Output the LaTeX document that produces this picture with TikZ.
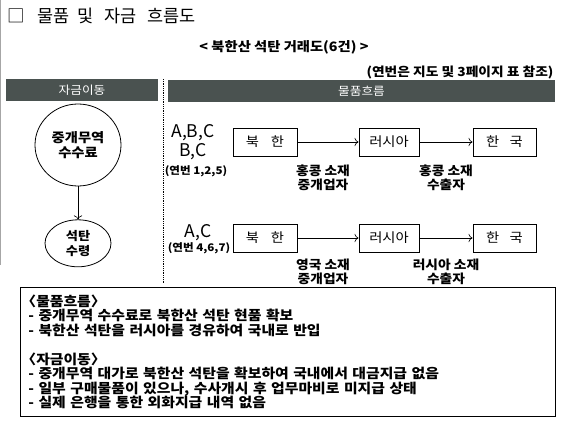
\documentclass[tikz,border=0pt]{standalone}
\usepackage{fontspec}
\setmainfont{Noto Sans CJK KR}
\newfontfamily\widefont[FakeStretch=1.1]{Noto Sans CJK KR}
\usetikzlibrary{positioning,arrows.meta,shapes.geometric}

\definecolor{barfill}{RGB}{74,82,80}

\begin{document}
\begin{tikzpicture}[x=1pt, y=-1pt,
    bar/.style={rectangle, fill=barfill, text=white, minimum height=22pt, inner sep=0pt, font=\widefont\fontsize{11.5}{12}\selectfont},
    country/.style={rectangle, draw=black, line width=1pt, minimum height=28pt, inner sep=0pt, font=\widefont\fontsize{13}{14}\selectfont},
    bubble/.style={ellipse, draw=black, line width=0.8pt, inner sep=0pt, align=center, font=\widefont\bfseries\fontsize{13}{15}\selectfont},
    arrow/.style={-{To[length=4pt]}, line width=0.6pt},
    dealer/.style={font=\widefont\bfseries\fontsize{12.5}{14}\selectfont, align=center},
    caseset/.style={font=\fontsize{17.5}{19}\selectfont},
    caseno/.style={font=\widefont\bfseries\fontsize{10.5}{12}\selectfont}
]
\useasboundingbox (0,0) rectangle (569,436);

% scan edge
\draw[black!35, line width=1.2pt] (0.6,0) -- (0.6,265);

% title and heading
\node[anchor=west, font=\fontsize{17.5}{19}\selectfont] (title) at (4,16)
  {□\hspace{12pt}물품\hspace{8pt}및\hspace{11pt}자금\hspace{11pt}흐름도};
\node[font=\widefont\bfseries\fontsize{13}{14}\selectfont] (heading) at (284,47) {< 북한산 석탄 거래도(6건) >};
\node[anchor=east, font=\widefont\bfseries\fontsize{12.5}{14}\selectfont] (source) at (557,72) {(연번은 지도 및 3페이지 표 참조)};

% column headers
\node[bar, minimum width=152pt] (moneyhead) at (82,90) {자금이동};
\node[bar, minimum width=387pt] (goodshead) at (361.5,91) {물품흐름};
\draw[densely dotted, line width=0.8pt] (163,79) -- (163,283);

% money flow
\node[bubble, minimum width=86pt, minimum height=82pt] (fee) at (78,145) {중개무역\\수수료};
\node[bubble, minimum width=66pt, minimum height=47pt, below=33pt of fee, font=\widefont\bfseries\fontsize{12}{15}\selectfont] (coal) {석탄\\수령};
\draw[arrow] (fee) -- (coal);

% goods flow, cases 1,2,5
\node[caseset] (set1a) at (193,133) {A,B,C};
\node[caseset] (set1b) at (193,152) {B,C};
\node[caseno] (no1) at (196,171) {(연번 1,2,5)};
\node[country, minimum width=64pt] (nk1) at (265,142) {북\hspace{0.9em}한};
\node[country, minimum width=60pt, right=61pt of nk1] (ru1) {러시아};
\node[country, minimum width=63pt, right=53pt of ru1] (kr1) {한\hspace{0.8em}국};
\draw[arrow] (nk1) -- node[dealer, below=19pt, xshift=-5pt] (hk1) {홍콩 소재\\중개업자} (ru1);
\draw[arrow] (ru1) -- node[dealer, below=19pt] (hk2) {홍콩 소재\\수출자} (kr1);

% goods flow, cases 4,6,7
\node[caseset] (set2) at (198,233) {A,C};
\node[caseno] (no2) at (199,248) {(연번 4,6,7)};
\node[country, minimum width=64pt] (nk2) at (265,238) {북\hspace{0.9em}한};
\node[country, minimum width=60pt, right=61pt of nk2] (ru2) {러시아};
\node[country, minimum width=63pt, right=53pt of ru2] (kr2) {한\hspace{0.8em}국};
\draw[arrow] (nk2) -- node[dealer, below=17pt, xshift=-5pt] (uk1) {영국 소재\\중개업자} (ru2);
\draw[arrow] (ru2) -- node[dealer, below=17pt] (ru3) {러시아 소재\\수출자} (kr2);

% summary
\node[draw=black, line width=0.8pt, anchor=north west, minimum width=535pt, minimum height=129pt,
      text width=525pt, inner sep=4pt, align=left, font=\widefont\bfseries\fontsize{13.5}{14.5}\selectfont] (notes) at (20,287)
  {\hspace*{-4pt}〈물품흐름〉\\
   \hspace*{3pt}- 중개무역 수수료로 북한산 석탄 현품 확보\\
   \hspace*{3pt}- 북한산 석탄을 러시아를 경유하여 국내로 반입\\[14.5pt]
   \hspace*{-4pt}〈자금이동〉\\
   \hspace*{3pt}- 중개무역 대가로 북한산 석탄을 확보하여 국내에서 대금지급 없음\\
   \hspace*{3pt}- 일부 구매물품이 있으나, 수사개시 후 업무마비로 미지급 상태\\
   \hspace*{3pt}- 실제 은행을 통한 외화지급 내역 없음};

\end{tikzpicture}
\end{document}
